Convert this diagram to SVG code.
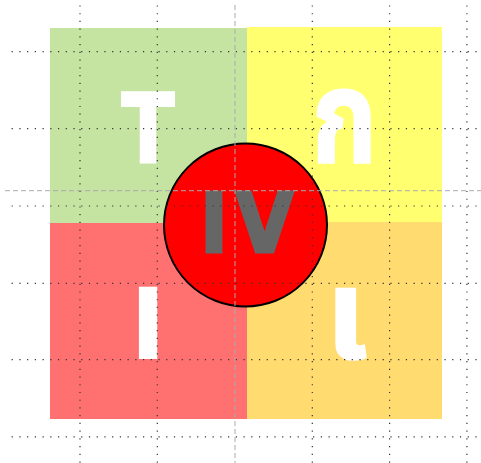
<svg xmlns="http://www.w3.org/2000/svg" width="481" height="463" viewBox="0 0 481 463">
<style>
.lbl{font-family:"DejaVu Sans Condensed","DejaVu Sans",sans-serif;font-weight:bold;fill:#fff;stroke:#fff;stroke-width:2;text-anchor:middle}
.th{font-family:"Noto Sans Thai","Noto Sans Thai UI","Noto Sans","DejaVu Sans",sans-serif;font-weight:bold;fill:#fff;stroke:#fff;stroke-width:1.5;text-anchor:middle}
.iv{font-family:"DejaVu Sans Condensed","DejaVu Sans",sans-serif;font-weight:bold;fill:#666;stroke:#666;stroke-width:3;text-anchor:middle}
.dot{stroke:#333;stroke-width:1.2;stroke-dasharray:1.2 6.53;fill:none}
.dash{stroke:#aaa;stroke-width:1;stroke-dasharray:5 3;fill:none}
</style>
<rect width="481" height="463" fill="#fff"/>
<g id="q1"><rect x="50" y="28" width="197" height="195" fill="#c6e4a1"/><text class="lbl" font-size="96" transform="translate(148 163) scale(0.9 1)">T</text></g>
<g id="q2"><rect x="247" y="27" width="195" height="195" fill="#ffff70"/><text class="th" font-size="132" transform="translate(344.5 163) scale(0.8 1)">ก</text></g>
<g id="q3"><rect x="50" y="223" width="197" height="196" fill="#ff7070"/><text class="lbl" x="148" y="358" font-size="96">I</text></g>
<g id="q4"><rect x="247" y="222" width="195" height="197" fill="#ffdb70"/><text class="th" x="347" y="358" font-size="128">เ</text></g>
<g id="center"><circle cx="245.5" cy="225" r="81.5" fill="#ff0000" stroke="#000" stroke-width="2"/><text class="iv" y="252" font-size="82"><tspan x="214">I</tspan><tspan x="264.5">V</tspan></text></g>
<g id="grid">
<path class="dot" d="M80 5.4V463M157.3 5.4V463M312.3 5.4V463M389.6 5.4V463M466.9 5.4V463"/>
<path class="dot" d="M11.6 51.6H481M11.6 128.6H481M11.6 206H481M11.6 283.3H481M11.6 359.6H481M11.6 436.9H481"/>
<path class="dash" d="M235 5V463M5 190.7H481"/>
</g>
</svg>
